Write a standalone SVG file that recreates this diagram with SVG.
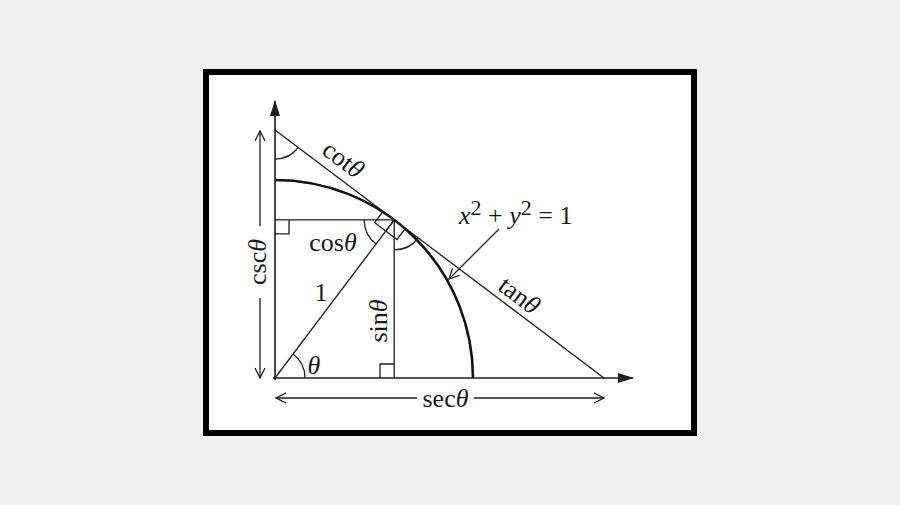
<svg xmlns="http://www.w3.org/2000/svg" width="900" height="505" viewBox="0 0 900 505">
<defs>
<style>
.bg{fill:#f0f0f0}
.frame{fill:#fff;stroke:#000;stroke-width:6}
.ln{fill:none;stroke:#1e1e1e;stroke-width:1.3}
.ax{fill:none;stroke:#1e1e1e;stroke-width:1.6}
.arc{fill:none;stroke:#111;stroke-width:2.6}
.t{font-family:"Liberation Serif","Times New Roman",serif;font-size:26px;fill:#1a1a1a}
.it{font-style:italic}
</style>
<marker id="fill" viewBox="0 0 16 10" refX="15" refY="5" markerWidth="16" markerHeight="10" markerUnits="userSpaceOnUse" orient="auto">
<path d="M0,0 L16,5 L0,10 Z" fill="#1e1e1e"/>
</marker>
<marker id="open" viewBox="0 0 12 12" refX="11" refY="6" markerWidth="12" markerHeight="12" markerUnits="userSpaceOnUse" orient="auto-start-reverse">
<path d="M1,1 L11,6 L1,11" fill="none" stroke="#1e1e1e" stroke-width="1.3"/>
</marker>
</defs>
<rect class="bg" x="0" y="0" width="900" height="505"/>
<rect class="frame" x="206" y="72" width="488" height="361"/>

<g id="axes">
<line class="ax" x1="275" y1="380" x2="275" y2="101" marker-end="url(#fill)"/>
<line class="ax" x1="273" y1="378" x2="633" y2="378" marker-end="url(#fill)"/>
</g>

<g id="unit-circle">
<path class="arc" d="M275,180 A198,198 0 0 1 473,378"/>
</g>

<g id="connectors">
<line class="ln" x1="275" y1="130" x2="604" y2="378"/>
<line class="ln" x1="275" y1="378" x2="394.2" y2="219.9"/>
<line class="ln" x1="275" y1="219.9" x2="394.2" y2="219.9"/>
<line class="ln" x1="394.2" y1="219.9" x2="394.2" y2="378"/>
<line class="ln" x1="260" y1="226" x2="260" y2="131" marker-end="url(#open)"/>
<line class="ln" x1="260" y1="298" x2="260" y2="378" marker-end="url(#open)"/>
<line class="ln" x1="417" y1="398" x2="276" y2="398" marker-end="url(#open)"/>
<line class="ln" x1="474" y1="398" x2="604" y2="398" marker-end="url(#open)"/>
<line class="ln" x1="499" y1="229" x2="449" y2="279" marker-end="url(#open)"/>
</g>

<g id="angle-marks">
<path class="ln" d="M305,378 A30,30 0 0 0 293.1,354"/>
<path class="ln" d="M275,159 A29,29 0 0 0 298.2,147.5"/>
<path class="ln" d="M364.2,219.9 A30,30 0 0 0 376.1,243.9"/>
<path class="ln" d="M394.2,249.9 A30,30 0 0 0 418.2,238"/>
<path class="ln" d="M275,233.9 H289 V219.9"/>
<path class="ln" d="M380,378 V364 H394.2"/>
<path class="ln" d="M394.2,219.9 L383.0,211.5 L374.6,222.7 L385.8,231.1 Z"/>
<path class="ln" d="M385.8,231.1 L397.0,239.5 L405.4,228.3"/>
</g>

<g id="labels">
<text class="t" transform="translate(343,160) rotate(37)" text-anchor="middle" y="8">cot<tspan class="it">θ</tspan></text>
<text class="t" transform="translate(519,296) rotate(37)" text-anchor="middle" y="8">tan<tspan class="it">θ</tspan></text>
<text class="t" x="333" y="251" text-anchor="middle">cos<tspan class="it">θ</tspan></text>
<text class="t" transform="translate(379,321) rotate(-90)" text-anchor="middle" y="8">sin<tspan class="it">θ</tspan></text>
<text class="t" transform="translate(258,262) rotate(-90)" text-anchor="middle" y="8">csc<tspan class="it">θ</tspan></text>
<text class="t" x="445.5" y="407" text-anchor="middle">sec<tspan class="it">θ</tspan></text>
<text class="t" x="321" y="301" text-anchor="middle">1</text>
<text class="t it" x="314" y="374" text-anchor="middle">θ</text>
<text class="t" x="459" y="224"><tspan class="it">x</tspan><tspan font-size="22" dy="-9">2</tspan><tspan dy="9"> + </tspan><tspan class="it">y</tspan><tspan font-size="22" dy="-9">2</tspan><tspan dy="9"> = 1</tspan></text>
</g>
</svg>
